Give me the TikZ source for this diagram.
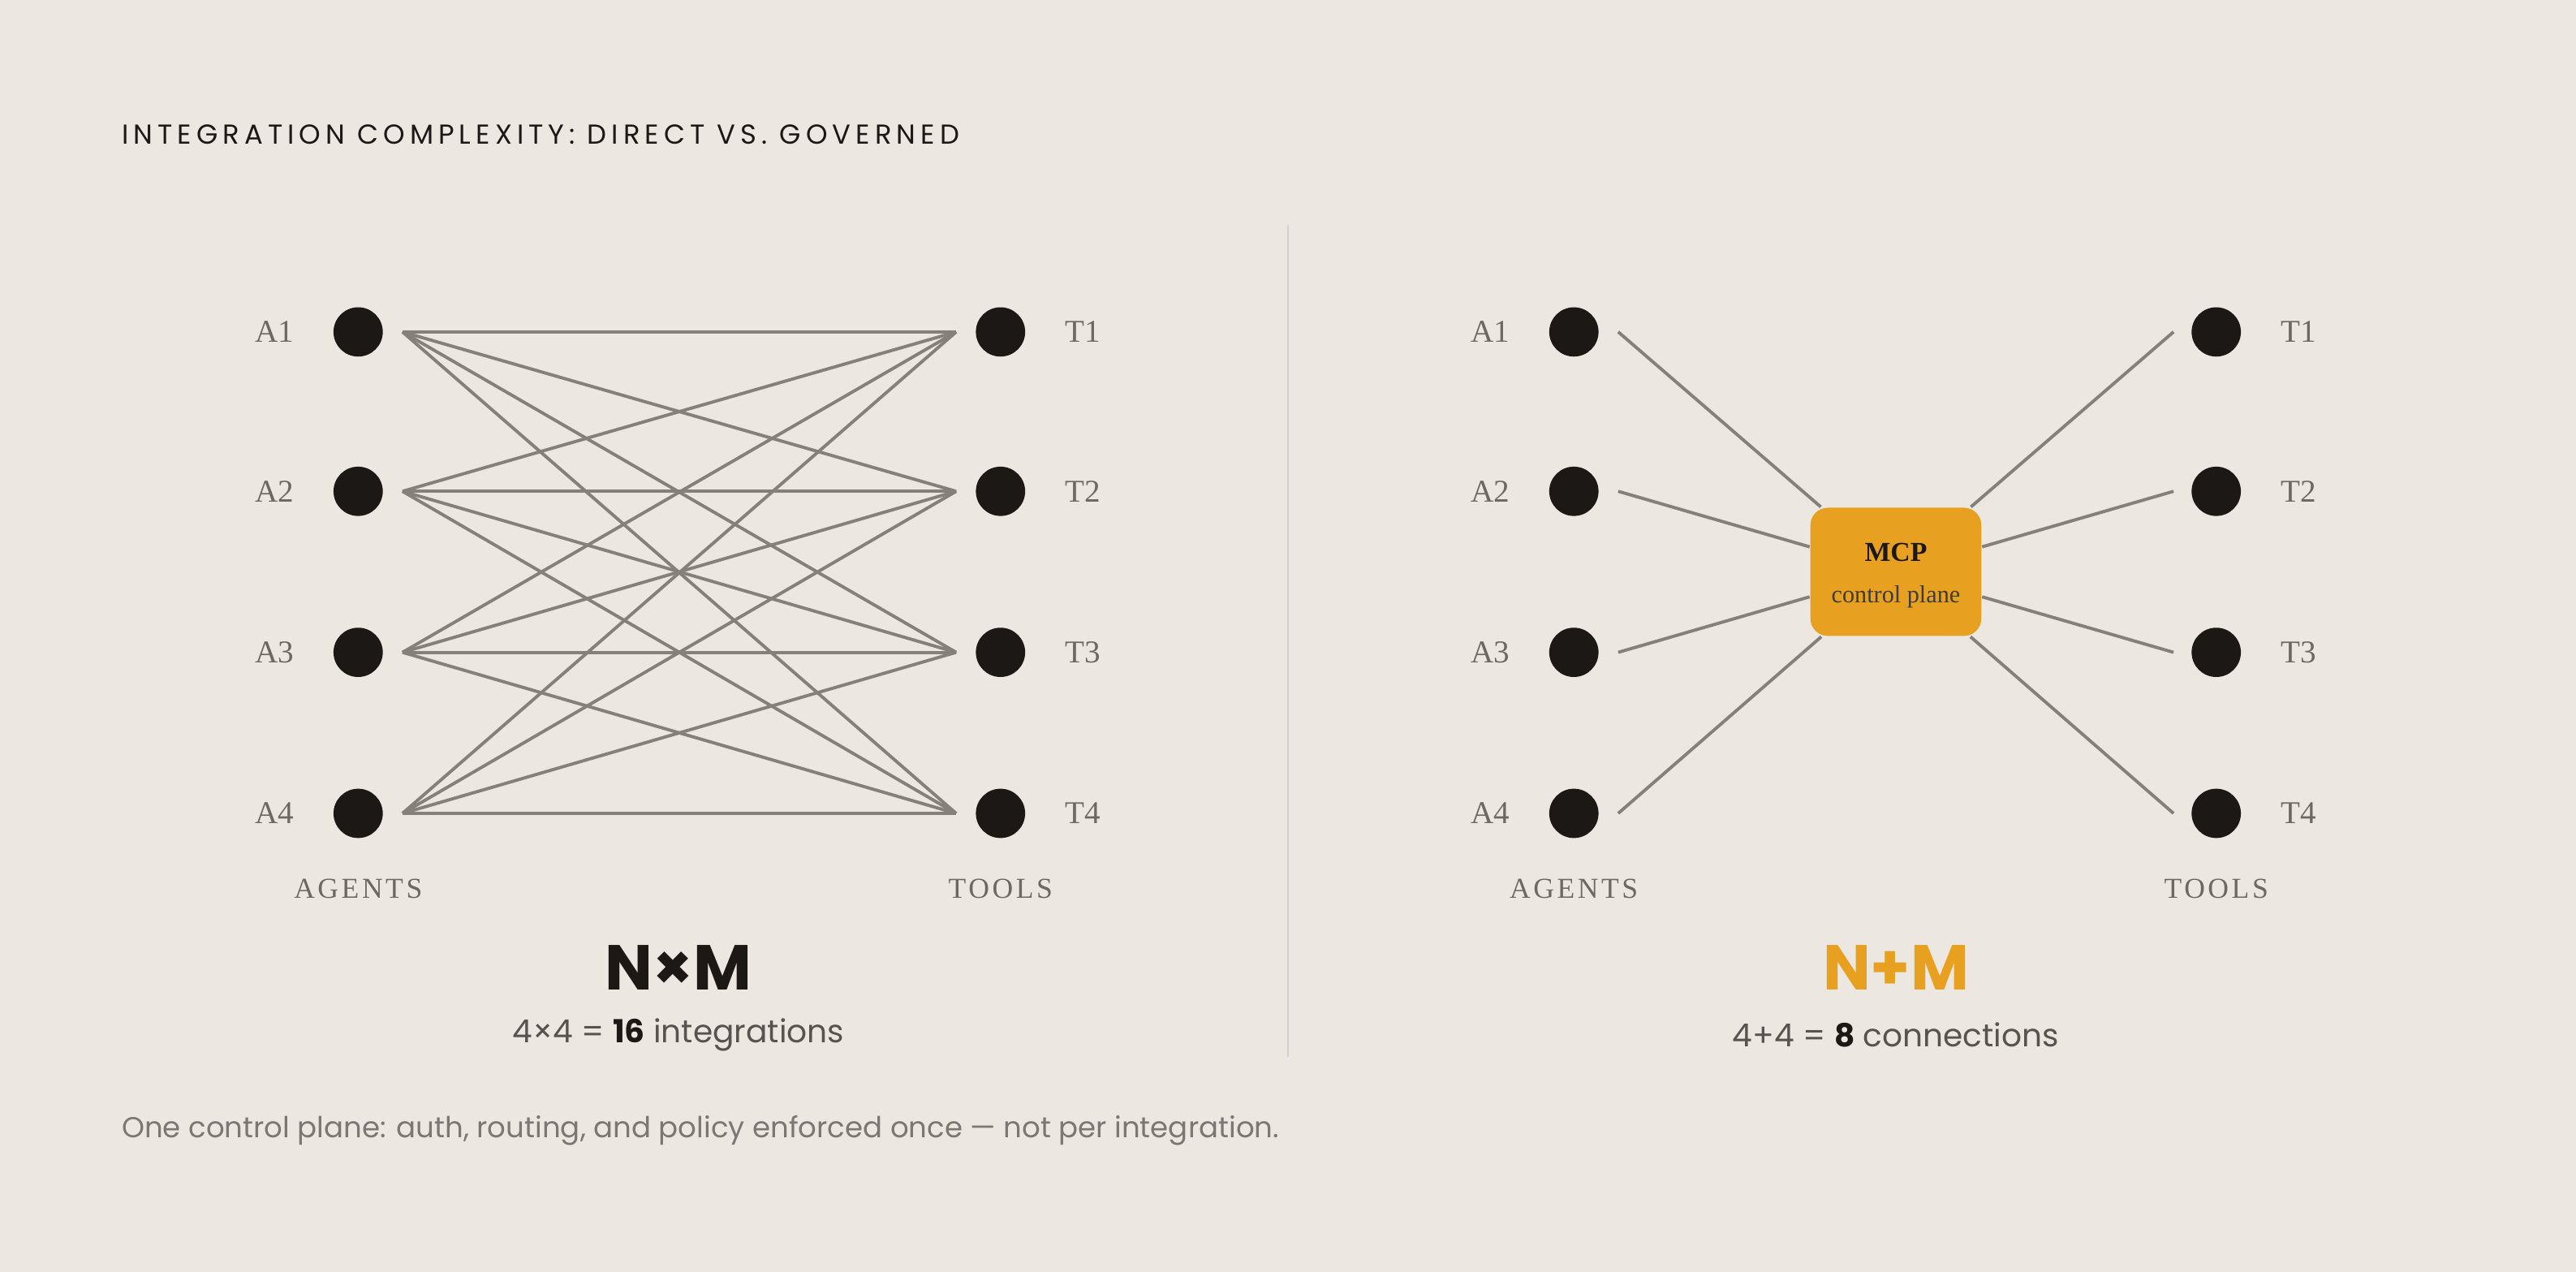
\documentclass[tikz,border=0pt]{standalone}
\usepackage{fontspec}
\setmainfont{Liberation Serif}
\newfontfamily\ps{Poppins}
\newfontfamily\pst[LetterSpace=18]{Poppins}
\newfontfamily\srt[LetterSpace=10]{Liberation Serif}
\definecolor{bg}{HTML}{ECE7E1}
\definecolor{dot}{HTML}{1C1816}
\definecolor{ln}{HTML}{858079}
\definecolor{lab}{HTML}{6E6863}
\definecolor{org}{HTML}{E8A020}
\begin{document}
\begin{tikzpicture}[x=0.02cm,y=-0.02cm,
  dotn/.style={circle,fill=dot,minimum size=30\pgflinewidth,inner sep=0,line width=0.02cm},
  lab/.style={text=lab,font=\fontsize{11}{13}\selectfont},
  wire/.style={draw=ln,line width=1.1pt},
  grp/.style={text=lab,font=\srt\fontsize{10}{12}\selectfont}]
\fill[bg] (0,0) rectangle (1568,774);
\useasboundingbox (0,0) rectangle (1568,774);
\node[anchor=west,font=\pst\fontsize{9.5}{11}\selectfont,text=dot] (title) at (68,82) {INTEGRATION COMPLEXITY: DIRECT VS. GOVERNED};
% left
\foreach \i/\y in {1/202,2/299,3/397,4/495}{
  \node[dotn] (la\i) at (218,\y) {};
  \node[dotn] (lt\i) at (609,\y) {};
  \node[lab] (lal\i) at (167,\y) {A\i};
  \node[lab] (ltl\i) at (659,\y) {T\i};
  \coordinate (lae\i) at (245,\y);
  \coordinate (lte\i) at (582,\y);
}
\foreach \i in {1,...,4}{\foreach \j in {1,...,4}{\draw[wire] (lae\i) -- (lte\j);}}
\node[grp] (lag) at (218,541) {AGENTS};
\node[grp] (ltg) at (609,541) {TOOLS};
\node[font=\ps\bfseries\fontsize{22}{26}\selectfont,text=dot] (nm) at (413,589) {N×M};
\node[font=\ps\fontsize{11}{13}\selectfont,text=lab!80!black] (nms) at (413,630) {4×4 = {\bfseries\color{dot}16} integrations};
% divider
\coordinate (d1) at (784,137); \coordinate (d2) at (784,643);
\draw[color=black!18,line width=0.8pt] (d1) -- (d2);
% right
\node[fill=org,rounded corners=6pt,minimum width=104\pgflinewidth,minimum height=78\pgflinewidth,line width=0.02cm,align=center,inner sep=0] (mcp) at (1154,348) {};
\node[font=\bfseries\fontsize{9.5}{11}\selectfont,text=dot] (mcpt) at (1154,336) {MCP};
\node[font=\fontsize{8.5}{10}\selectfont,text=dot!85] (mcps) at (1154,363) {control plane};
\foreach \i/\y in {1/202,2/299,3/397,4/495}{
  \node[dotn] (ra\i) at (958,\y) {};
  \node[dotn] (rt\i) at (1349,\y) {};
  \node[lab] (ral\i) at (907,\y) {A\i};
  \node[lab] (rtl\i) at (1399,\y) {T\i};
  \coordinate (rae\i) at (985,\y);
  \coordinate (rte\i) at (1323,\y);
  \draw[wire] (rae\i) -- (mcp);
  \draw[wire] (mcp) -- (rte\i);
}
\node[grp] (rag) at (958,541) {AGENTS};
\node[grp] (rtg) at (1349,541) {TOOLS};
\node[font=\ps\bfseries\fontsize{22}{26}\selectfont,text=org] (np) at (1154,589) {N+M};
\node[font=\ps\fontsize{11}{13}\selectfont,text=lab!80!black] (nps) at (1154,630) {4+4 = {\bfseries\color{dot}8} connections};
\node[anchor=west,font=\ps\fontsize{10}{12}\selectfont,text=lab!90] (foot) at (68,688) {One control plane: auth, routing, and policy enforced once — not per integration.};
\end{tikzpicture}
\end{document}
